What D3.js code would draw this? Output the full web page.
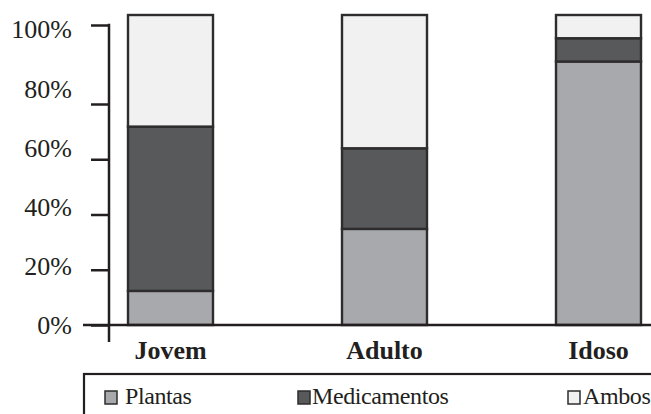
<!DOCTYPE html>
<html>
<head>
<meta charset="utf-8">
<script src="https://cdn.jsdelivr.net/npm/d3@7"></script>
<style>
  html, body { margin: 0; padding: 0; background: #fff; }
  svg { display: block; }
  text { font-family: "Liberation Serif", "Times New Roman", serif; fill: #231f20; }
</style>
</head>
<body>
<svg id="chart" width="651" height="414"></svg>
<script>
// Share of each age group using plants, medicines or both (%)
const categories = ["Jovem", "Adulto", "Idoso"];
const plantas = [11, 31, 85];
const medicamentos = [53, 26, 7.5];
const ambos = [36, 43, 7.5];
const seriesNames = ["Plantas", "Medicamentos", "Ambos"];
const seriesColors = ["#a7a9ac", "#58595b", "#f1f1f2"];
const yTicks = [0, 20, 40, 60, 80, 100];

const ink = "#231f20";
const svg = d3.select("#chart");

const rows = categories.map((c, i) => ({
  cat: c, Plantas: plantas[i], Medicamentos: medicamentos[i], Ambos: ambos[i]
}));
const stacked = d3.stack().keys(seriesNames)(rows);

const x = d3.scaleBand()
  .domain(categories)
  .range([63.5, 705.5])
  .paddingInner(0.6028)
  .paddingOuter(0.3014);

// bar scale
const y = d3.scaleLinear().domain([0, 100]).range([325, 15]);
// tick marks on the vertical axis
const yTickScale = d3.scaleLinear().domain([0, 80, 100]).range([325, 104, 25]);
// tick label positions
const yLabelScale = d3.scaleLinear().domain([0, 100]).range([325, 29]);

// stacked bars
const color = d3.scaleOrdinal().domain(seriesNames).range(seriesColors);
svg.append("g")
  .selectAll("g")
  .data(stacked)
  .join("g")
  .attr("fill", d => color(d.key))
  .selectAll("rect")
  .data(d => d)
  .join("rect")
  .attr("x", d => x(d.data.cat))
  .attr("width", x.bandwidth())
  .attr("y", d => y(d[1]))
  .attr("height", d => y(d[0]) - y(d[1]))
  .attr("stroke", "#2e2c2d")
  .attr("stroke-width", 2.4);

// vertical axis
const yAxis = svg.append("g")
  .attr("transform", "translate(109,0)")
  .call(d3.axisLeft(yTickScale).tickValues(yTicks).tickSize(18).tickSizeOuter(0)
    .tickFormat(d => d + "%"));
yAxis.select(".domain").remove();
yAxis.selectAll(".tick line").attr("stroke", ink).attr("stroke-width", 2.5);
yAxis.selectAll(".tick text")
  .attr("x", 0)
  .attr("y", 0)
  .attr("dy", "0.34em")
  .attr("transform", d => `translate(-37,${yLabelScale(d) - yTickScale(d)})`)
  .style("font-family", "'Liberation Serif', serif")
  .style("font-size", "26px")
  .attr("fill", ink);
svg.append("line")
  .attr("x1", 109).attr("x2", 109)
  .attr("y1", yTickScale(100) - 1.2).attr("y2", 342)
  .attr("stroke", ink).attr("stroke-width", 2.5);

// baseline
svg.append("line")
  .attr("x1", 83).attr("x2", 651)
  .attr("y1", y(0)).attr("y2", y(0))
  .attr("stroke", ink).attr("stroke-width", 2.5);

// category labels
svg.append("g")
  .selectAll("text")
  .data(categories)
  .join("text")
  .attr("x", d => x(d) + x.bandwidth() / 2)
  .attr("y", 359)
  .attr("text-anchor", "middle")
  .style("font-size", "26px")
  .style("font-weight", "bold")
  .text(d => d);

// legend
svg.append("rect")
  .attr("x", 84).attr("y", 374)
  .attr("width", 600).attr("height", 80)
  .attr("fill", "none")
  .attr("stroke", ink).attr("stroke-width", 2.2);

const legendX = [105, 298, 568];
const legend = svg.append("g")
  .selectAll("g")
  .data(seriesNames)
  .join("g")
  .attr("transform", (d, i) => `translate(${legendX[i]},391)`);
legend.append("rect")
  .attr("width", 12).attr("height", 13)
  .attr("fill", d => color(d))
  .attr("stroke", "#2e2c2d").attr("stroke-width", 1.5);
legend.append("text")
  .attr("x", d => d === "Medicamentos" ? 14 : (d === "Ambos" ? 15 : 20))
  .attr("y", 13)
  .style("font-size", "24px")
  .style("letter-spacing", "-0.4px")
  .text(d => d);
</script>
</body>
</html>
